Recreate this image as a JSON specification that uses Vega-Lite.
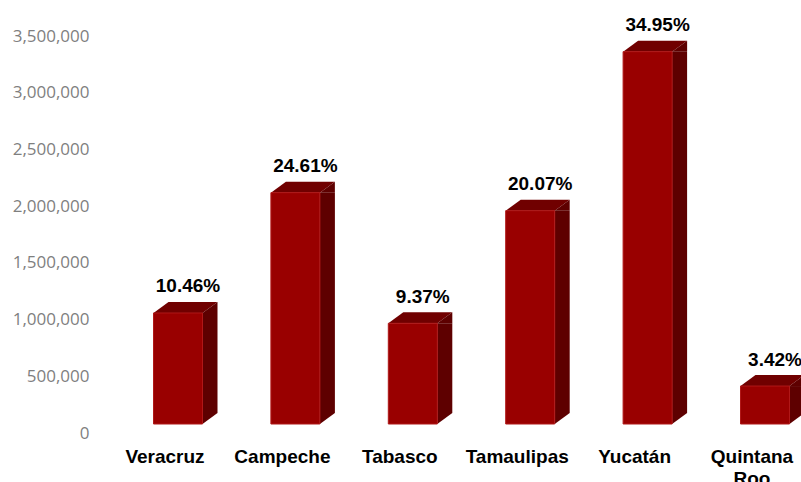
{
  "$schema": "https://vega.github.io/schema/vega-lite/v6.json",
  "width": 706,
  "height": 397,
  "autosize": {"type": "none"},
  "padding": {"left": 95, "top": 36, "right": 0, "bottom": 49},
  "background": "white",
  "config": {"view": {"stroke": null}},
  "data": {
    "values": [
      {"state": "Veracruz", "value": 1058000, "pct": "10.46%"},
      {"state": "Campeche", "value": 2119000, "pct": "24.61%"},
      {"state": "Tabasco", "value": 967000, "pct": "9.37%"},
      {"state": "Tamaulipas", "value": 1960000, "pct": "20.07%"},
      {"state": "Yucatán", "value": 3362000, "pct": "34.95%"},
      {"state": "Quintana Roo", "value": 414000, "pct": "3.42%"}
    ]
  },
  "encoding": {
    "x": {
      "field": "state",
      "type": "nominal",
      "sort": null,
      "scale": {"type": "band", "range": [11.3, 715.7], "paddingInner": 0, "paddingOuter": 0},
      "axis": {
        "title": null,
        "domain": false,
        "ticks": false,
        "tickSize": 0,
        "labelAngle": 0,
        "labelFont": "Liberation Sans",
        "labelFontWeight": "bold",
        "labelFontSize": 19,
        "labelColor": "#000000",
        "labelBaseline": "alphabetic",
        "labelPadding": 29,
        "labelLineHeight": 22,
        "labelOverlap": false,
        "labelBound": false,
        "labelLimit": 0,
        "labelExpr": "datum.value == 'Quintana Roo' ? ['Quintana', 'Roo'] : datum.value"
      }
    }
  },
  "layer": [
    {
      "mark": {"type": "bar", "width": 15, "xOffset": 45, "y2Offset": -11, "color": "#5e0000"},
      "encoding": {
        "y": {
          "field": "value",
          "type": "quantitative",
          "scale": {"domain": [0, 3500000], "nice": false},
          "axis": {
            "title": null,
            "domain": false,
            "ticks": false,
            "grid": false,
            "values": [0, 500000, 1000000, 1500000, 2000000, 2500000, 3000000, 3500000],
            "format": ",d",
            "labelFont": "Open Sans",
            "labelFontSize": 17,
            "labelColor": "#7f7f7f",
            "labelPadding": 6
          }
        },
        "y2": {"datum": 79300}
      }
    },
    {
      "mark": {"type": "point", "shape": "M-24.5,0 L-9.5,-11 L39.5,-11 L24.5,0 Z", "size": 4, "filled": true, "opacity": 1, "strokeWidth": 0, "xOffset": 13, "color": "#700000"},
      "encoding": {"y": {"field": "value", "type": "quantitative"}}
    },
    {
      "mark": {"type": "point", "shape": "M24.5,0 L39.5,-11 L39.5,0 Z", "size": 4, "filled": true, "opacity": 1, "strokeWidth": 0, "xOffset": 13, "color": "#5e0000"},
      "encoding": {"y": {"field": "value", "type": "quantitative"}}
    },
    {
      "mark": {"type": "point", "shape": "M24.5,-11 L39.5,-11 L24.5,0 Z", "size": 4, "filled": true, "opacity": 1, "strokeWidth": 0, "xOffset": 13, "color": "#5e0000"},
      "encoding": {"y": {"datum": 79300, "type": "quantitative"}}
    },
    {
      "mark": {"type": "bar", "width": 49, "xOffset": 13, "color": "#990000", "stroke": "#b01818", "strokeWidth": 1},
      "encoding": {
        "y": {"field": "value", "type": "quantitative"},
        "y2": {"datum": 79300}
      }
    },
    {
      "mark": {"type": "text", "xOffset": 23, "dy": -20.5, "baseline": "alphabetic", "align": "center", "font": "Liberation Sans", "fontWeight": "bold", "fontSize": 19, "color": "#000000"},
      "encoding": {
        "y": {"field": "value", "type": "quantitative"},
        "text": {"field": "pct"}
      }
    }
  ]
}
